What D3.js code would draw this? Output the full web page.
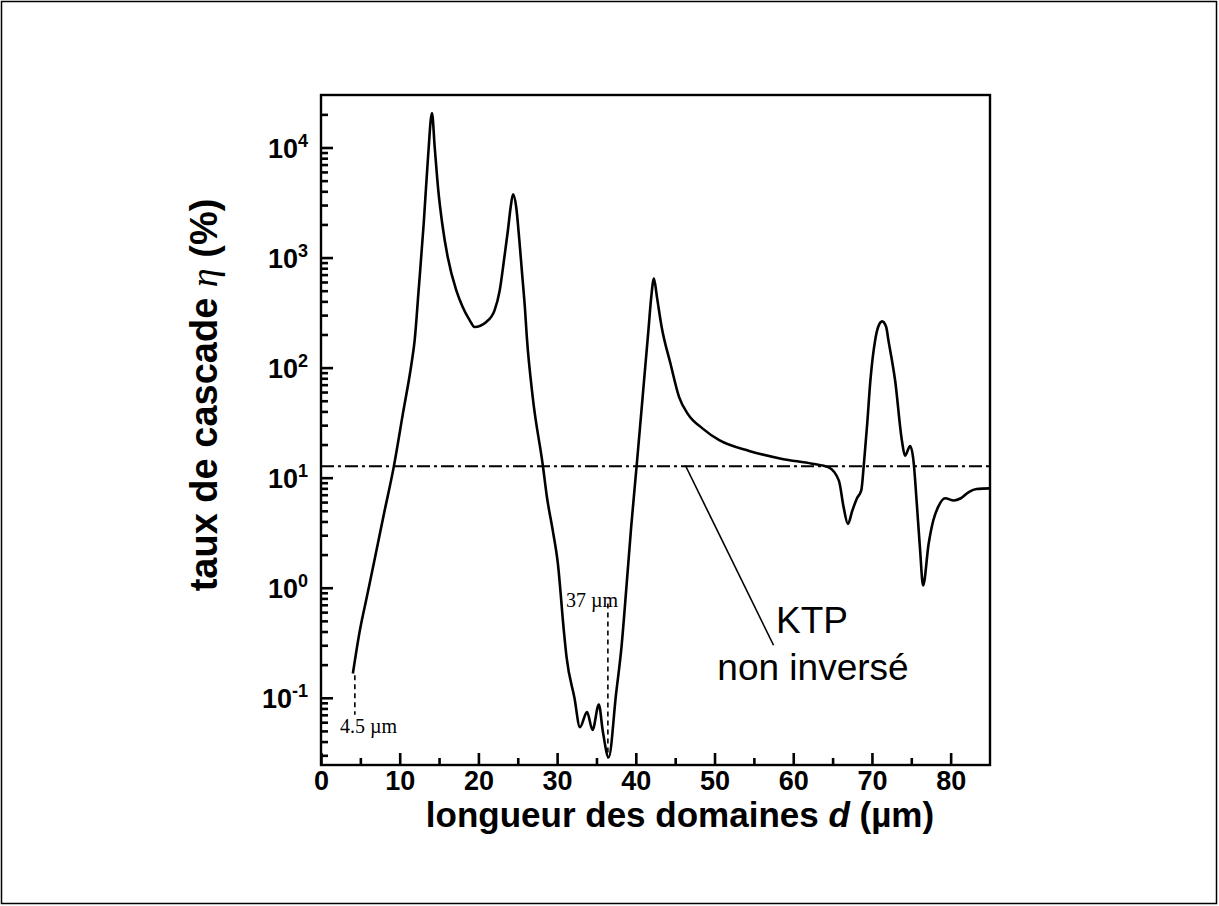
<!DOCTYPE html>
<html>
<head>
<meta charset="utf-8">
<script src="https://cdn.jsdelivr.net/npm/d3@7"></script>
<style>
  body { margin: 0; background: #fff; }
  svg { display: block; }
</style>
</head>
<body>
<div id="chart"></div>
<script>
// domain length d (µm) and cascade rate eta (%)
const domainLength = [4.05, 4.94, 5.8, 6.7, 8.0, 9.25, 10.4, 11.5, 11.9, 12.4, 13.05, 13.6, 14.1, 14.45, 14.9, 15.4, 16.1, 17.2, 18.0, 18.9, 19.5, 21.0, 22.05, 22.7, 23.3, 23.75, 24.1, 24.4, 24.8, 25.2, 25.55, 25.9, 26.15, 26.9, 28.2, 28.7, 29.45, 30.1, 30.85, 31.2, 32.2, 32.9, 33.8, 34.5, 35.3, 35.8, 36.55, 37.5, 38.2, 38.8, 39.4, 40.1, 41.0, 41.6, 41.95, 42.3, 42.7, 43.3, 44.4, 45.5, 46.6, 48.5, 50.6, 54.4, 58.6, 62.4, 64.5, 65.8, 66.4, 66.95, 67.5, 68.1, 68.65, 68.95, 69.4, 69.8, 70.4, 70.8, 71.3, 71.8, 72.1, 72.95, 73.8, 74.2, 74.85, 75.3, 75.7, 76.1, 76.5, 77.2, 77.8, 78.4, 79.3, 80.4, 81.3, 82.3, 83.3, 85];
const cascadeRate = [0.166, 0.41, 0.81, 1.65, 4.7, 12.6, 38, 109, 177, 500, 2040, 8200, 20600, 10000, 4090, 2040, 1010, 500, 356, 269, 234, 260, 331, 500, 1010, 1770, 2880, 3760, 2880, 1440, 716, 356, 190, 54, 12.7, 6.7, 3.3, 1.65, 0.41, 0.234, 0.1, 0.054, 0.074, 0.051, 0.087, 0.05, 0.0288, 0.11, 0.3, 1.0, 3.5, 12.7, 70, 218, 430, 644, 430, 230, 109, 54, 38, 27.9, 21.9, 17.5, 14.8, 13.4, 12.4, 9.4, 5.4, 3.8, 5.0, 6.5, 7.7, 12.6, 31, 76, 176, 235, 263, 235, 176, 76, 21.9, 15.8, 19.4, 13.8, 5.8, 2.3, 1.05, 2.5, 4.1, 5.4, 6.5, 6.2, 6.5, 7.4, 7.9, 8.0];

// non-inverted KTP reference level
const ktpLevel = 12.7;

const xMajorTicks = [0, 10, 20, 30, 40, 50, 60, 70, 80];
const xMinorTicks = [5, 15, 25, 35, 45, 55, 65, 75];
const yExponents = [-1, 0, 1, 2, 3, 4];

// annotation anchors (data units)
const leaderFrom = [46.3, 12.9];
const leaderTo = [57.5, 0.3];
const mark45 = {d: 4.3, top: 0.16, bottom: 0.07, label: "4.5 µm"};
const mark37 = {d: 36.45, top: 0.72, bottom: 0.028, label: "37 µm"};

const W = 1219, H = 906;
const plot = {left: 321, right: 990, top: 95, bottom: 765};

const svg = d3.select("#chart").append("svg")
    .attr("width", W)
    .attr("height", H)
    .style("font-family", "'Liberation Sans', Arial, sans-serif");

svg.append("rect")
    .attr("width", W).attr("height", H)
    .attr("fill", "#fff");

// outer frame
svg.append("rect")
    .attr("x", 1.5).attr("y", 1.5)
    .attr("width", W - 4).attr("height", H - 4)
    .attr("fill", "none")
    .attr("stroke", "#000")
    .attr("stroke-width", 1.5);

const x = d3.scaleLinear().domain([0, 85]).range([plot.left, plot.right]);
const y = d3.scaleLog().domain([0.0245, 30000]).range([plot.bottom, plot.top]);

const yMinor = [];
yExponents.concat([-2]).forEach(e => {
    for (let k = 2; k <= 9; k++) {
        const v = k * Math.pow(10, e);
        if (v > y.domain()[0] && v < y.domain()[1]) yMinor.push(v);
    }
});

function styleTicks(g) {
    g.select(".domain").remove();
    g.selectAll(".tick line")
        .attr("stroke", "#000")
        .attr("stroke-width", 2.6);
}

// bottom axis, ticks pointing inward
svg.append("g")
    .attr("class", "x-minor")
    .attr("transform", `translate(0,${plot.bottom})`)
    .call(d3.axisBottom(x).tickValues(xMinorTicks).tickSize(-7).tickFormat(""))
    .call(styleTicks);

const xAx = svg.append("g")
    .attr("class", "x-axis")
    .attr("transform", `translate(0,${plot.bottom})`)
    .call(d3.axisBottom(x).tickValues(xMajorTicks).tickSize(-12).tickPadding(22).tickFormat(d3.format("d")))
    .call(styleTicks);
xAx.selectAll("text")
    .attr("font-size", 27)
    .attr("font-weight", "bold")
    .attr("font-family", "'Liberation Sans', Arial, sans-serif")
    .attr("fill", "#000")
    .attr("dy", "0.1em");

// left axis
svg.append("g")
    .attr("class", "y-minor")
    .attr("transform", `translate(${plot.left},0)`)
    .call(d3.axisLeft(y).tickValues(yMinor).tickSize(-7).tickFormat(""))
    .call(styleTicks);

svg.append("g")
    .attr("class", "y-axis")
    .attr("transform", `translate(${plot.left},0)`)
    .call(d3.axisLeft(y).tickValues(yExponents.map(e => Math.pow(10, e))).tickSize(-12).tickFormat(""))
    .call(styleTicks);

const yLab = svg.append("g").selectAll("text")
    .data(yExponents)
    .join("text")
    .attr("x", plot.left - 13)
    .attr("y", e => y(Math.pow(10, e)) + 10)
    .attr("text-anchor", "end")
    .attr("font-weight", "bold")
    .attr("font-size", 27);
yLab.append("tspan").text("10");
yLab.append("tspan")
    .attr("font-size", 18)
    .attr("dy", -11)
    .text(e => e);

// plot frame
svg.append("rect")
    .attr("x", plot.left).attr("y", plot.top)
    .attr("width", plot.right - plot.left).attr("height", plot.bottom - plot.top)
    .attr("fill", "none")
    .attr("stroke", "#000")
    .attr("stroke-width", 2.4);

// KTP reference line
svg.append("line")
    .attr("x1", x(0)).attr("x2", x(85))
    .attr("y1", y(ktpLevel)).attr("y2", y(ktpLevel))
    .attr("stroke", "#000")
    .attr("stroke-width", 2)
    .attr("stroke-dasharray", "13 4 3 4");

// curve
const curveData = domainLength.map((d, i) => ({d: d, eta: cascadeRate[i]}));
svg.append("path")
    .datum(curveData)
    .attr("fill", "none")
    .attr("stroke", "#000")
    .attr("stroke-width", 2.6)
    .attr("stroke-linejoin", "round")
    .attr("d", d3.line().x(p => x(p.d)).y(p => y(p.eta)).curve(d3.curveMonotoneX));

// leader line to the KTP label
svg.append("line")
    .attr("x1", x(leaderFrom[0])).attr("y1", y(leaderFrom[1]))
    .attr("x2", x(leaderTo[0])).attr("y2", y(leaderTo[1]))
    .attr("stroke", "#000")
    .attr("stroke-width", 1.6);

svg.append("text")
    .attr("x", 812).attr("y", 633)
    .attr("text-anchor", "middle")
    .attr("font-size", 37)
    .text("KTP");
svg.append("text")
    .attr("x", 813).attr("y", 680)
    .attr("text-anchor", "middle")
    .attr("font-size", 37)
    .text("non inversé");

// dashed markers
[mark45, mark37].forEach(m => {
    svg.append("line")
        .attr("x1", x(m.d)).attr("x2", x(m.d))
        .attr("y1", y(m.top)).attr("y2", y(m.bottom))
        .attr("stroke", "#000")
        .attr("stroke-width", 1.6)
        .attr("stroke-dasharray", "5 4");
});
svg.append("text")
    .attr("x", 340).attr("y", 733)
    .attr("font-family", "'Liberation Serif', 'Times New Roman', serif")
    .attr("font-size", 20)
    .text(mark45.label);
svg.append("text")
    .attr("x", 566).attr("y", 607)
    .attr("font-family", "'Liberation Serif', 'Times New Roman', serif")
    .attr("font-size", 20)
    .text(mark37.label);

// axis titles
const xt = svg.append("text")
    .attr("x", 680).attr("y", 827)
    .attr("text-anchor", "middle")
    .attr("font-size", 35)
    .attr("font-weight", "bold");
xt.append("tspan").text("longueur des domaines ");
xt.append("tspan").attr("font-style", "italic").text("d");
xt.append("tspan").text(" (µm)");

const yt = svg.append("text")
    .attr("transform", "translate(217,395) rotate(-90)")
    .attr("text-anchor", "middle")
    .attr("font-size", 38)
    .attr("font-weight", "bold");
yt.append("tspan").text("taux de cascade ");
yt.append("tspan")
    .attr("font-family", "'Liberation Serif', 'Times New Roman', serif")
    .attr("font-style", "italic")
    .attr("font-weight", "normal")
    .text("η");
yt.append("tspan").text(" (%)");
</script>
</body>
</html>
